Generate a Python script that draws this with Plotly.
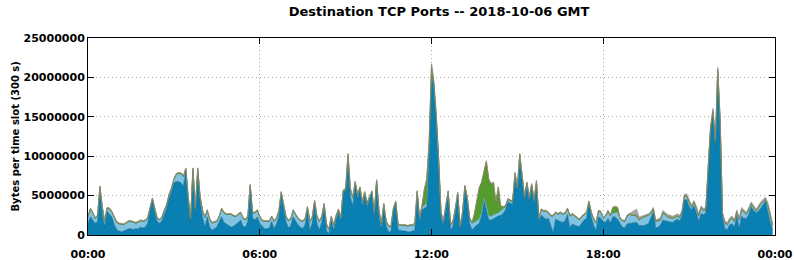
import plotly.graph_objects as go
import pandas as pd
import numpy as np

# time slots (300 s each) for 2018-10-06 GMT
slots = pd.date_range("2018-10-06 00:00", periods=288, freq="300s")

# values in millions of bytes per slot
dark_blue = [
 1.5,2.3,1.9,1.5,1.7,5.8,2.6,1.0,3.0,2.7,2.3,1.3, 0.7,0.5,0.4,0.5,0.6,0.8,0.8,0.7,0.8,0.8,1.0,0.9,
 1.0,1.5,3.0,4.4,2.8,1.7,1.5,1.8,2.6,3.4,4.7,5.5, 6.6,6.8,6.8,6.6,6.2,8.2,4.3,1.6,8.1,2.5,8.1,4.3,
 2.3,1.0,2.3,1.0,0.6,0.8,1.0,1.7,2.3,1.6,1.4,1.2, 1.0,1.1,1.3,1.6,1.9,1.1,1.0,1.7,6.1,2.2,1.9,2.3,
 1.5,1.1,0.8,0.8,0.9,1.7,0.8,1.4,2.3,5.1,3.2,1.7, 0.9,1.2,2.3,1.8,1.3,1.0,0.8,1.3,3.0,0.6,1.5,3.9,
 1.4,0.6,1.6,3.6,0.5,0.2,1.8,0.6,2.0,2.9,1.7,5.5, 5.6,9.5,4.8,3.6,6.4,4.6,5.7,3.6,5.0,3.6,4.4,5.3,
 2.2,6.8,2.3,0.8,3.6,1.1,0.4,0.4,3.0,4.0,0.6,0.6, 0.5,0.5,0.4,0.4,0.5,0.6,5.3,1.6,3.2,3.4,3.6,10.5,
 20.3,18.8,14.8,9.3,2.2,1.3,3.4,5.3,0.6,1.1,2.9,5.1, 0.6,2.2,5.9,4.4,1.5,0.6,1.0,1.3,1.5,2.4,4.4,3.2,
 1.9,1.9,2.1,2.3,2.4,2.5,2.7,3.2,4.2,4.0,4.0,7.2, 5.6,9.5,6.6,4.4,6.2,4.3,6.0,4.0,6.4,1.8,2.5,2.3,
 2.0,2.1,1.2,0.3,2.0,1.8,1.7,1.6,1.8,2.6,0.9,1.4, 1.3,1.1,1.1,1.5,1.9,2.1,4.0,2.3,1.2,0.6,2.3,2.1,
 1.7,1.6,2.1,1.5,2.3,2.3,2.0,1.5,1.0,0.9,1.4,1.5, 1.5,1.6,1.6,1.2,1.2,1.2,1.3,1.5,2.2,3.0,0.9,1.0,
 1.3,1.9,1.8,1.7,1.7,1.6,1.8,2.0,1.8,2.4,4.4,4.5, 3.6,3.2,3.7,2.9,1.7,2.7,2.6,2.8,8.4,13.4,15.6,11.0,
 20.6,14.3,2.2,0.8,0.7,1.3,1.4,1.0,2.4,0.8,2.4,2.1, 2.1,2.6,3.6,3.1,2.8,3.0,3.4,3.9,4.3,3.0,1.6,0.7,
]

light_blue = [
 0.8,1.0,0.9,0.6,0.7,0.3,0.9,0.7,0.4,0.6,0.6,0.9, 0.9,0.9,0.9,0.8,0.9,0.9,0.9,0.9,0.7,0.8,0.8,0.8,
 0.8,0.6,0.4,0.2,0.5,0.4,0.4,0.4,0.5,0.4,0.4,0.4, 0.4,0.9,1.0,1.2,1.2,0.2,0.5,0.4,0.3,0.8,0.3,0.5,
 0.8,1.2,0.8,1.0,0.9,0.8,0.7,0.6,1.0,1.2,1.2,1.4, 1.6,1.3,1.0,1.0,0.9,1.0,0.9,0.6,0.2,0.6,0.9,0.8,
 0.8,0.7,0.9,0.9,0.8,0.6,0.9,0.7,0.7,0.3,0.6,0.6, 0.9,0.8,0.8,0.7,0.8,0.8,0.9,0.7,0.5,1.1,0.7,0.4,
 0.9,1.1,0.7,0.3,0.8,0.5,0.5,0.6,0.4,0.3,0.4,0.1, 0.1,0.6,1.0,1.1,0.3,0.5,0.3,0.6,0.4,0.4,0.3,0.2,
 0.6,0.1,0.7,0.6,0.3,0.6,0.7,0.6,0.3,0.2,0.7,0.6, 0.7,0.7,0.7,0.8,0.7,0.8,0.2,0.5,0.4,0.3,0.5,0.1,
 0.1,0.1,0.1,0.3,0.6,0.4,0.4,0.2,0.6,0.6,0.4,0.2, 0.5,0.6,0.3,0.3,0.6,0.9,0.6,0.5,0.5,0.4,0.3,0.5,
 0.5,0.5,0.5,0.4,0.4,0.5,0.6,0.4,0.3,0.3,0.2,0.6, 0.4,0.7,0.4,0.4,0.4,0.4,0.4,0.4,0.4,0.3,0.7,0.7,
 1.0,0.7,1.2,2.1,0.8,0.8,1.1,1.0,0.9,0.7,1.5,1.2, 1.1,1.0,0.8,0.8,0.7,0.7,0.2,0.5,0.8,0.9,0.7,0.8,
 0.4,0.8,0.9,0.9,0.5,0.5,0.9,0.6,0.8,0.8,1.0,1.1, 1.0,0.9,0.8,0.7,0.9,1.1,1.1,1.0,0.6,0.3,0.8,0.8,
 0.6,0.9,0.7,0.6,0.5,0.5,0.4,0.4,0.4,0.4,0.5,0.4, 0.6,0.3,0.4,0.5,0.7,0.7,0.5,0.4,0.1,0.1,0.1,0.7,
 0.3,0.2,0.4,0.7,0.6,0.6,0.7,0.7,0.5,1.1,0.8,0.8, 0.5,0.6,0.3,0.4,0.2,0.4,0.5,0.3,0.2,0.8,1.0,0.5,
]

green = [
 0,0,0,0,0,0,0,0,0,0,0,0, 0,0,0,0,0,0,0,0,0,0,0,0,
 0,0,0,0,0,0,0,0,0,0,0,0, 0,0,0,0,0,0,0,0,0,0,0,0,
 0,0,0,0,0,0,0,0,0,0,0,0, 0,0,0,0,0,0,0,0,0,0,0,0,
 0,0,0,0,0,0,0,0,0,0,0,0, 0,0,0,0,0,0,0,0,0,0,0,0,
 0,0,0,0,0,0,0,0,0,0,0,0, 0,0,0,0,0,0,0,0,0,0,0,0,
 0,0,0,0,0,0,0,0,0,0,0,0, 0,0,0,0,0,0,0,0,0,2.0,2.9,1.0,
 1.0,0.3,0.2,0.1,0,0,0,0,0,0,0,0, 0,0,0,0,0,0,1.0,2.5,3.9,3.8,3.4,5.6,
 4.6,4.0,4.0,1.3,3.2,0.6,0.2,0,0,0,0,0, 0,0,0,0,0,0,0,0,0,0,0,0,
 0,0,0,0,0,0,0,0,0,0,0,0, 0,0,0,0,0,0,0,0,0,0,0,0,
 0,0,0,0,0.6,0.7,0.5,0,0,0,0,0, 0,0,0,0,0,0,0,0,0,0,0,0,
 0,0,0,0,0,0,0,0,0,0,0,0, 0,0,0,0,0,0,0,0,0,0,0,0,
 0,0,0,0,0,0,0,0,0,0,0,0, 0,0,0,0,0,0,0,0,0,0,0,0,
]

olive = [
 0.1,0.1,0.1,0.1,0.1,0.1,0.1,0.1,0.1,0.1,0.1,0.1, 0.1,0.1,0.1,0.1,0.1,0.1,0.1,0.1,0.1,0.1,0.1,0.1,
 0.1,0.1,0.1,0.1,0.1,0.1,0.1,0.1,0.1,0.1,0.1,0.1, 0.1,0.1,0.1,0.1,0.1,0.1,0.1,0.1,0.1,0.1,0.1,0.1,
 0.1,0.1,0.1,0.1,0.1,0.1,0.1,0.1,0.1,0.1,0.1,0.1, 0.1,0.1,0.1,0.1,0.1,0.1,0.1,0.1,0.1,0.1,0.1,0.1,
 0.1,0.1,0.1,0.1,0.1,0.1,0.1,0.1,0.1,0.1,0.1,0.1, 0.1,0.1,0.1,0.1,0.1,0.1,0.1,0.1,0.1,0.1,0.1,0.1,
 0.1,0.1,0.1,0.1,0.1,0.1,0.1,0.1,0.1,0.1,0.1,0.1, 0.2,0.2,0.1,0.1,0.1,0.1,0.1,0.1,0.1,0.1,0.1,0.1,
 0.1,0.1,0.1,0.1,0.1,0.1,0.1,0.1,0.1,0.1,0.1,0.1, 0.1,0.1,0.1,0.1,0.1,0.1,0.1,0.1,0.1,0.1,0.1,0.3,
 0.3,0.3,0.3,0.1,0.1,0.1,0.1,0.1,0.1,0.1,0.1,0.1, 0.1,0.1,0.1,0.1,0.1,0.1,0.1,0.1,0.1,0.1,0.1,0.1,
 0.1,0.1,0.1,0.1,0.1,0.1,0.1,0.1,0.1,0.1,0.1,0.1, 0.1,0.1,0.1,0.1,0.1,0.1,0.1,0.1,0.1,0.1,0.1,0.1,
 0.1,0.1,0.1,0.1,0.1,0.1,0.1,0.1,0.1,0.1,0.1,0.1, 0.1,0.1,0.1,0.1,0.1,0.1,0.1,0.1,0.1,0.1,0.1,0.1,
 0.1,0.1,0.1,0.1,0.1,0.1,0.1,0.1,0.1,0.1,0.1,0.1, 0.1,0.1,0.1,0.1,0.1,0.1,0.1,0.1,0.1,0.1,0.1,0.1,
 0.1,0.1,0.1,0.1,0.1,0.1,0.1,0.1,0.1,0.1,0.1,0.1, 0.1,0.1,0.1,0.1,0.1,0.1,0.1,0.1,0.2,0.2,0.2,0.2,
 0.2,0.2,0.1,0.1,0.1,0.1,0.1,0.1,0.1,0.1,0.1,0.1, 0.1,0.1,0.1,0.1,0.1,0.1,0.1,0.1,0.1,0.1,0.1,0.1,
]

grey = [
 0.03,0.03,0.03,0.03,0.03,0.03,0.03,0.03,0.03,0.03,0.03,0.03, 0.03,0.03,0.03,0.03,0.03,0.03,0.03,0.03,0.03,0.03,0.03,0.03,
 0.03,0.03,0.03,0.03,0.03,0.03,0.03,0.03,0.03,0.03,0.03,0.03, 0.03,0.03,0.03,0.03,0.03,0.03,0.03,0.03,0.03,0.03,0.03,0.03,
 0.03,0.03,0.03,0.03,0.03,0.03,0.03,0.03,0.03,0.03,0.03,0.03, 0.03,0.03,0.03,0.03,0.03,0.03,0.03,0.03,0.03,0.03,0.03,0.03,
 0.03,0.03,0.03,0.03,0.03,0.03,0.03,0.03,0.03,0.03,0.03,0.03, 0.03,0.03,0.03,0.03,0.03,0.03,0.03,0.03,0.03,0.03,0.03,0.03,
 0.03,0.03,0.03,0.03,0.03,0.03,0.03,0.03,0.03,0.03,0.03,0.03, 0.03,0.03,0.03,0.03,0.03,0.03,0.03,0.03,0.03,0.03,0.03,0.03,
 0.03,0.03,0.03,0.03,0.03,0.03,0.03,0.03,0.03,0.03,0.03,0.03, 0.03,0.03,0.03,0.03,0.03,0.03,0.03,0.03,0.03,0.03,0.03,0.03,
 0.03,0.03,0.03,0.03,0.03,0.03,0.03,0.03,0.03,0.03,0.03,0.03, 0.03,0.03,0.03,0.03,0.03,0.03,0.03,0.03,0.03,0.03,0.03,0.03,
 0.03,0.03,0.03,0.03,0.03,0.03,0.03,0.03,0.03,0.03,0.03,0.03, 0.03,0.03,0.03,0.03,0.03,0.03,0.03,0.03,0.03,0.03,0.03,0.03,
 0.05,0.05,0.05,0.05,0.05,0.05,0.05,0.05,0.05,0.05,0.05,0.05, 0.05,0.05,0.05,0.05,0.05,0.05,0.05,0.05,0.05,0.05,0.05,0.05,
 0.05,0.05,0.05,0.05,0.05,0.05,0.05,0.05,0.05,0.05,0.05,0.05, 0.3,0.6,0.8,0.3,0.2,0.1,0.1,0.1,0.1,0.1,0.1,0.1,
 0.2,0.2,0.2,0.2,0.2,0.2,0.2,0.2,0.2,0.2,0.2,0.2, 0.2,0.2,0.2,0.2,0.2,0.2,0.2,0.2,0.2,0.2,0.2,0.2,
 0.2,0.2,0.2,0.2,0.2,0.2,0.2,0.2,0.2,0.2,0.2,0.2, 0.2,0.2,0.2,0.2,0.2,0.2,0.2,0.2,0.2,0.2,0.2,0.2,
]

y_ticks = [0, 5000000, 10000000, 15000000, 20000000, 25000000]
y_tick_labels = ["0", "5000000", "10000000", "15000000", "20000000", "25000000"]
x_ticks = ["2018-10-06 00:00", "2018-10-06 06:00", "2018-10-06 12:00",
           "2018-10-06 18:00", "2018-10-07 00:00"]
x_tick_labels = ["00:00", "06:00", "12:00", "18:00", "00:00"]

layers = [
    ("dark", dark_blue, "#0a80b2", "#0c5f86"),
    ("light", light_blue, "#82c2e2", "#5b9ab8"),
    ("green", green, "#549c2c", "#3f7f22"),
    ("olive", olive, "#9a8a3c", "#857834"),
    ("grey", grey, "#a6a6a6", "#909090"),
]

fig = go.Figure()
for name, vals, fill, edge in layers:
    fig.add_trace(go.Scatter(
        x=slots, y=np.array(vals) * 1e6, name=name, mode="lines",
        stackgroup="one", fillcolor=fill,
        line=dict(color=edge, width=0.6, shape="linear"),
        hoverinfo="skip",
    ))

font_b = dict(family="DejaVu Sans", size=11, color="black", weight="bold")

fig.update_layout(
    width=794, height=260,
    margin=dict(l=88, r=19, t=38, b=25, autoexpand=False),
    paper_bgcolor="white", plot_bgcolor="white",
    showlegend=False,
    title=dict(text="Destination TCP Ports -- 2018-10-06 GMT",
               xref="paper", x=0.511, xanchor="center",
               yref="container", y=0.955, yanchor="middle",
               font=dict(family="DejaVu Sans", size=13, color="black", weight="bold")),
    font=font_b,
    annotations=[dict(
        text="Bytes per time slot (300 s)", textangle=-90,
        xref="paper", x=(15 - 88) / 687, xanchor="center",
        yref="paper", y=0.5, yanchor="middle", showarrow=False,
        font=dict(family="DejaVu Sans", size=10, color="black", weight="bold"),
    )],
)
fig.update_xaxes(
    range=[x_ticks[0], x_ticks[-1]], automargin=False,
    tickmode="array", tickvals=x_ticks, ticktext=x_tick_labels,
    tickfont=font_b, ticks="inside", ticklen=6, tickcolor="black",
    ticklabelstandoff=9,
    showline=True, linecolor="black", linewidth=1, mirror="allticks",
    showgrid=True, gridcolor="#a8a8a8", griddash="1px,3px", gridwidth=1,
    zeroline=False,
)
fig.update_yaxes(
    range=[0, 25000000], automargin=False,
    tickmode="array", tickvals=y_ticks, ticktext=y_tick_labels,
    tickfont=font_b, ticks="inside", ticklen=6, tickcolor="black",
    showline=True, linecolor="black", linewidth=1, mirror="allticks",
    showgrid=True, gridcolor="#a8a8a8", griddash="1px,3px", gridwidth=1,
    zeroline=False,
)

fig.write_html("out.html")
